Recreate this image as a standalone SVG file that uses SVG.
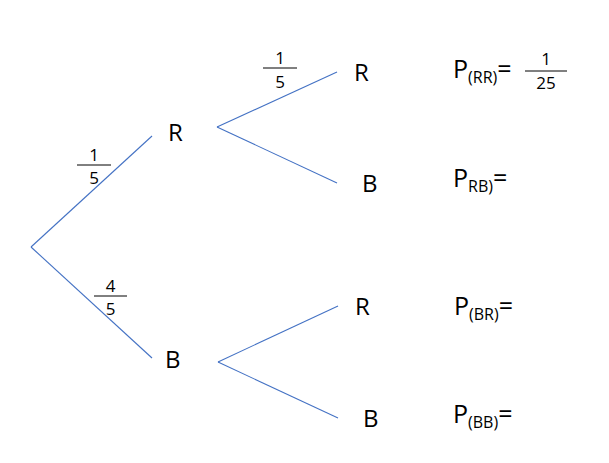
<svg xmlns="http://www.w3.org/2000/svg" width="609" height="463" viewBox="0 0 609 463">
<style>
.e{stroke:#4472C4;stroke-width:1.1;fill:none}
.fl{stroke:#000;stroke-width:1}
text{font-family:"Open Sans","Liberation Sans",sans-serif;fill:#000}
.n{font-size:24px}
.f{font-size:17px;text-anchor:middle}
.p{font-size:25px}
.s{font-size:16px}
</style>
<rect width="609" height="463" fill="#fff"/>
<g id="connectors">
<line class="e" x1="31" y1="247" x2="152" y2="136"/>
<line class="e" x1="31" y1="247" x2="152" y2="358"/>
<line class="e" x1="217" y1="127" x2="337" y2="72"/>
<line class="e" x1="217" y1="127" x2="337" y2="183"/>
<line class="e" x1="218" y1="362" x2="338" y2="306"/>
<line class="e" x1="218" y1="362" x2="338" y2="418"/>
</g>
<g id="frac1">
<text class="f" x="94" y="160.5">1</text><line class="fl" x1="77" y1="165" x2="111" y2="165"/><text class="f" x="94" y="184">5</text>
</g>
<g id="frac2">
<text class="f" x="110.5" y="292">4</text><line class="fl" x1="94" y1="296" x2="127" y2="296"/><text class="f" x="110.5" y="315">5</text>
</g>
<g id="frac3">
<text class="f" x="280" y="64">1</text><line class="fl" x1="263" y1="68" x2="297" y2="68"/><text class="f" x="280" y="87.5">5</text>
</g>
<g id="nodeR1"><text class="n" x="168" y="140.5">R</text></g>
<g id="nodeB1"><text class="n" x="165" y="368">B</text></g>
<g id="nodeRR"><text class="n" x="354" y="81">R</text></g>
<g id="nodeRB"><text class="n" x="362" y="192">B</text></g>
<g id="nodeBR"><text class="n" x="355" y="315">R</text></g>
<g id="nodeBB"><text class="n" x="363" y="427">B</text></g>
<g id="pRR">
<text class="p" x="453" y="78">P<tspan class="s" dy="5">(RR)</tspan><tspan dy="-5">=</tspan></text>
<text class="f" x="546" y="65">1</text><line class="fl" x1="525" y1="71" x2="567" y2="71"/><text class="f" x="546" y="89">25</text>
</g>
<g id="pRB"><text class="p" x="453" y="187">P<tspan class="s" dy="5">RB)</tspan><tspan dy="-5">=</tspan></text></g>
<g id="pBR"><text class="p" x="454" y="315">P<tspan class="s" dy="5">(BR)</tspan><tspan dy="-5">=</tspan></text></g>
<g id="pBB"><text class="p" x="453" y="423">P<tspan class="s" dy="5">(BB)</tspan><tspan dy="-5">=</tspan></text></g>
</svg>
